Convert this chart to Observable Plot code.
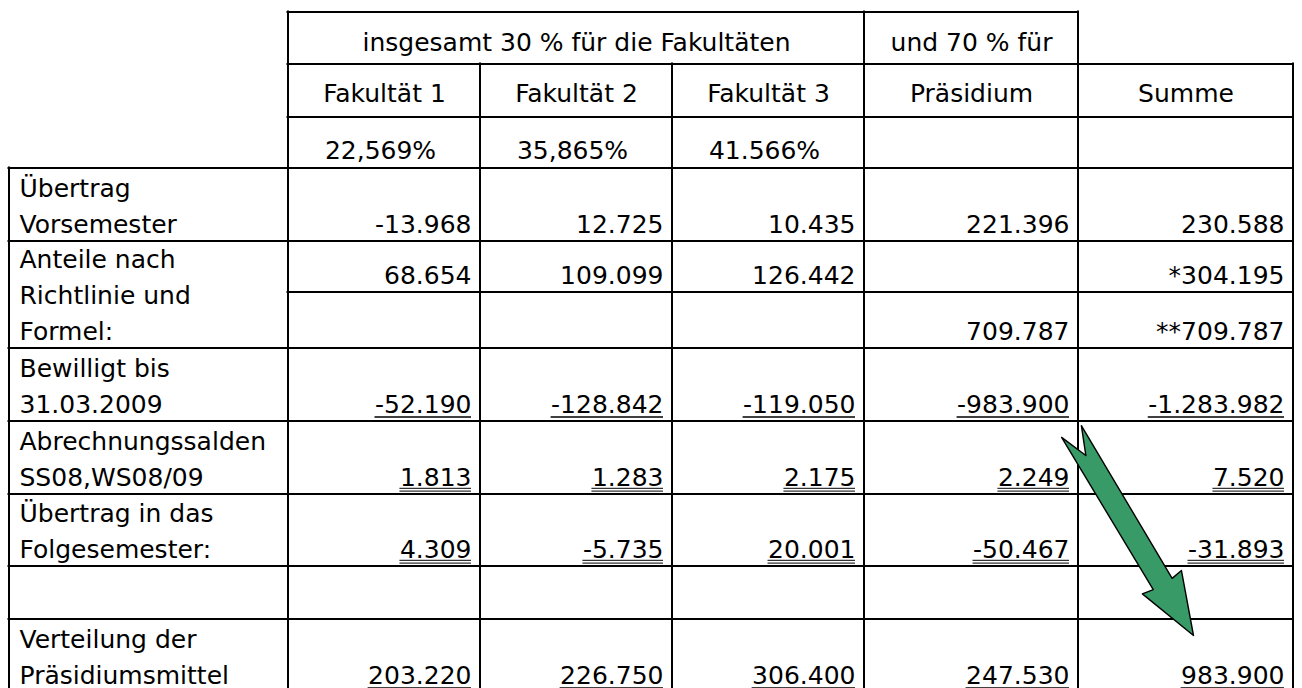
<!DOCTYPE html>
<html><head><meta charset="utf-8">
<script src="https://cdn.jsdelivr.net/npm/d3@7"></script>
<script src="https://cdn.jsdelivr.net/npm/@observablehq/plot@0.6"></script>
<style>html,body{margin:0;padding:0;background:#fff}#chart svg{display:block}</style>
</head><body><div id="chart"></div>
<script>
// ---------- data ----------
const columns = ["Fakultät 1", "Fakultät 2", "Fakultät 3", "Präsidium", "Summe"];
const groupHeaders = ["insgesamt 30 % für die Fakultäten", "und 70 % für"];
const shares = ["22,569%", "35,865%", "41.566%"];
const rowLabels = [
  "Übertrag\nVorsemester",
  "Anteile nach\nRichtlinie und\nFormel:",
  "Bewilligt bis\n31.03.2009",
  "Abrechnungssalden\nSS08,WS08/09",
  "Übertrag in das\nFolgesemester:",
  "",
  "Verteilung der\nPräsidiumsmittel"
];
const uebertragVorsemester = [-13968, 12725, 10435, 221396, 230588];
const anteileFakultaeten = [68654, 109099, 126442, null, 304195];
const anteilePraesidium = [null, null, null, 709787, 709787];
const bewilligt = [-52190, -128842, -119050, -983900, -1283982];
const abrechnungssalden = [1813, 1283, 2175, 2249, 7520];
const uebertragFolgesemester = [4309, -5735, 20001, -50467, -31893];
const leer = [null, null, null, null, null];
const verteilung = [203220, 226750, 306400, 247530, 983900];
const summePrefix = ["", "*", "**", "", "", "", "", ""];

// ---------- layout (positions & styles) ----------
const W = 1302, H = 688;
const FONT = "DejaVu Sans", FS = 25;
const colEdges = [9, 288, 480, 672, 864, 1078, 1293];
const headEdges = [12, 64, 117, 168];
const headBaselines = [50, 101, 158];
const bodyEdges = [168, 241, 292, 348, 421, 494, 566, 619, 692];
const bodySeries = [uebertragVorsemester, anteileFakultaeten, anteilePraesidium, bewilligt,
  abrechnungssalden, uebertragFolgesemester, leer, verteilung];
const underline = [0, 0, 0, 1, 2, 2, 0, 1]; // 0 none, 1 single, 2 double
const labelBottomEdge = [1, 3, 4, 5, 6, 7, 8];
const padBottom = 9, padRight = 9, padLeft = 10;

const de = d3.formatLocale({decimal: ",", thousands: ".", grouping: [3], currency: ["", ""], minus: "-"});
const fmt = de.format(",d");

const ctx = document.createElement("canvas").getContext("2d");
ctx.font = `${FS}px '${FONT}'`;
const measure = (s) => ctx.measureText(s).width;

// header texts
const headTexts = [];
headTexts.push({x: (colEdges[1] + colEdges[4]) / 2, y: headBaselines[0], t: groupHeaders[0]});
headTexts.push({x: (colEdges[4] + colEdges[5]) / 2, y: headBaselines[0], t: groupHeaders[1]});
columns.forEach((c, i) => headTexts.push({x: (colEdges[i + 1] + colEdges[i + 2]) / 2, y: headBaselines[1], t: c}));
shares.forEach((s, i) => headTexts.push({x: (colEdges[i + 1] + colEdges[i + 2]) / 2 - 4, y: headBaselines[2], t: s}));

// labels
const labels = rowLabels.map((t, i) => ({x: colEdges[0] + padLeft, y: bodyEdges[labelBottomEdge[i]] - padBottom, t}));

// values
const values = [], ulines = [];
bodySeries.forEach((series, r) => {
  const y = bodyEdges[r + 1] - padBottom;
  series.forEach((v, c) => {
    if (v == null) return;
    const t = (c === 4 ? summePrefix[r] : "") + fmt(v);
    const x = colEdges[c + 2] - padRight;
    values.push({x, y, t});
    const w = measure(t);
    if (underline[r] === 1) ulines.push({x1: x - w, x2: x, y: y + 4.5, sw: 1.4});
    if (underline[r] === 2) {
      ulines.push({x1: x - w, x2: x, y: y + 2.8, sw: 1});
      ulines.push({x1: x - w, x2: x, y: y + 5.6, sw: 1});
    }
  });
});

// grid segments
const hSegs = [
  {y: headEdges[0], x1: colEdges[1], x2: colEdges[5]},
  {y: headEdges[1], x1: colEdges[1], x2: colEdges[6]},
  {y: headEdges[2], x1: colEdges[1], x2: colEdges[6]},
  ...bodyEdges.map((y, i) => ({y, x1: i === 2 ? colEdges[1] : colEdges[0], x2: colEdges[6]}))
];
const vTop = [bodyEdges[0], headEdges[0], headEdges[1], headEdges[1], headEdges[0], headEdges[0], headEdges[1]];
const vSegs = colEdges.map((x, i) => ({x, y1: vTop[i], y2: bodyEdges[8]}));

// arrow from Präsidium/Abrechnungssalden corner to Summe/Verteilung
const tail = [colEdges[5] - 7, bodyEdges[4] + 10];
const tip = [colEdges[5] + 115, bodyEdges[7] + 16];
const L = Math.hypot(tip[0] - tail[0], tip[1] - tail[1]);
const u = [(tip[0] - tail[0]) / L, (tip[1] - tail[1]) / L];
const p = [u[1], -u[0]];
const shape = [[0, -11.5], [28, 0], [0, 11.5], [L - 60, 11], [L - 62, 23], [L, 0], [L - 62, -22.5], [L - 60, -11]];
const arrow = shape.map(([a, b]) => ({x: tail[0] + a * u[0] + b * p[0], y: tail[1] + a * u[1] + b * p[1]}));

const txt = {fontFamily: FONT, fontSize: FS, fill: "#000", lineAnchor: "bottom"};
const grid = {stroke: "#000", strokeWidth: 2, strokeLinecap: "square", dx: -0.5, dy: -0.5};

const chart = Plot.plot({
  width: W, height: H, margin: 0,
  style: {background: "#fff", fontFamily: FONT},
  x: {domain: [0, W], range: [0, W], axis: null},
  y: {domain: [0, H], range: [0, H], axis: null},
  marks: [
    Plot.ruleY(hSegs, {y: "y", x1: "x1", x2: "x2", ...grid}),
    Plot.ruleX(vSegs, {x: "x", y1: "y1", y2: "y2", ...grid}),
    Plot.text(headTexts, {x: "x", y: "y", text: "t", textAnchor: "middle", ...txt}),
    Plot.text(labels, {x: "x", y: "y", text: "t", textAnchor: "start", lineHeight: 1.44, ...txt}),
    Plot.text(values, {x: "x", y: "y", text: "t", textAnchor: "end", ...txt}),
    Plot.ruleY(ulines, {y: "y", x1: "x1", x2: "x2", stroke: "#000", strokeWidth: (d) => d.sw}),
    Plot.line(arrow, {x: "x", y: "y", curve: "linear-closed", fill: "#389a66", stroke: "#000", strokeWidth: 1.4})
  ]
});
document.getElementById("chart").append(chart);
</script>
</body></html>
